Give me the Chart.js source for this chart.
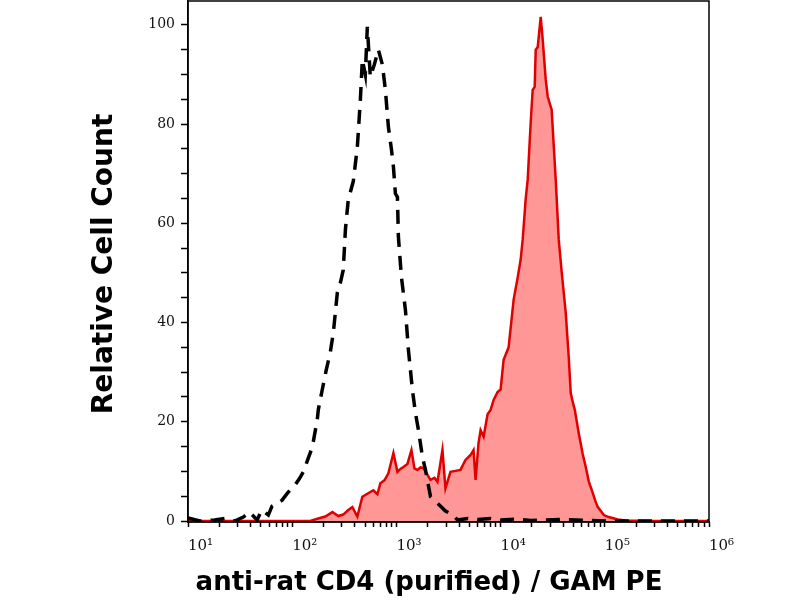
<!DOCTYPE html>
<html>
<head>
<meta charset="utf-8">
<script src="https://cdn.jsdelivr.net/npm/chart.js@4.4.1/dist/chart.umd.min.js"></script>
<style>
  html, body { margin: 0; padding: 0; background: #fff; }
  #wrap { width: 800px; height: 600px; position: relative; }
</style>
</head>
<body>
<div id="wrap"><canvas id="histChart"></canvas></div>
<script>
// stained sample (anti-rat CD4 / GAM PE), fluorescence channel values
const stainedX = [10, 39, 149, 178, 208, 243, 277, 309, 345, 378, 422, 471, 526, 601, 657, 702, 767, 838, 936,
    1023, 1092, 1167, 1276, 1394, 1490, 1592, 1702, 1818, 1987, 2124, 2319, 2478, 2767, 2957, 3303, 3690,
    4121, 4603, 5148, 5495, 5754, 6138, 6427, 6871, 7500, 8017, 8570, 9354, 10000, 10690, 11940, 13340,
    14560, 15560, 16290, 17380, 18200, 19410, 20320, 21240, 21730, 22700, 24270, 25360, 27100, 28330,
    30900, 33810, 36140, 38640, 42170, 45080, 47100, 49230, 51520, 56230, 61380, 65630, 70180, 76740,
    81880, 85700, 91620, 97800, 109200, 133300, 158500, 275000, 1000000];
const stainedY = [0, 0, 0, 0.5, 0.9, 1.8, 1.0, 1.3, 2.2, 2.8, 0.9, 4.9, 5.5, 6.2, 5.4, 7.6, 8.2, 9.6, 13.7,
    9.9, 10.5, 10.9, 11.5, 14.3, 10.6, 10.3, 10.8, 10.7, 9.3, 8.3, 8.7, 7.9, 14.3, 6.6, 9.9, 10.1,
    10.3, 12.3, 13.3, 14.3, 8.3, 15.7, 18.3, 17, 21.5, 22.4, 24.4, 26, 26.5, 32.5, 35, 44.6,
    49, 52.6, 56.7, 64.7, 68.8, 80, 86.9, 87.5, 95, 95.5, 101.6, 97, 89, 85.5,
    82.9, 68.8, 56.7, 50, 42, 33, 25.8, 24, 22.4, 17.7, 13.5, 10.9, 8, 5.6,
    3.8, 2.8, 2.0, 1.2, 0.8, 0.3, 0.1, 0, 0];

// isotype control (dashed)
const controlX = [10, 13, 18, 24, 28, 34, 39, 46, 51, 59, 64, 72, 80, 90, 98, 107, 117, 128, 139, 156, 174,
    178, 194, 212, 232, 248, 271, 290, 309, 324, 345, 386, 422, 451, 471, 503, 526, 562, 614, 671, 733,
    783, 838, 895, 936, 978, 1023, 1045, 1117, 1221, 1304, 1425, 1523, 1629, 1778, 1901, 2124, 2478,
    2957, 3532, 3864, 4822, 6012, 8017, 10000, 13930, 19410, 37760, 73280, 114300, 1000000];
const controlY = [0.6, 0, 0.2, 0.6, 0, 0.8, 1.8, 0.2, 2.2, 1.2, 3.0, 3.6, 4.2, 5.6, 6.5, 7.3, 8.5, 9.9, 12, 14.9, 20.4,
    22.4, 26.4, 30.4, 34, 37.9, 46, 48, 50.6, 58.7, 64.7, 68.5, 75.4, 84.9, 93, 90, 99.6, 89.5, 92, 95, 92,
    87, 79.4, 75, 71.4, 66, 65.3, 57.3, 49.2, 42.5, 34.5, 26.4, 21.8, 18.3, 12.9, 10.3, 4.9, 3.6,
    2.0, 1.2, 0.2, 0.5, 0.3, 0.5, 0.2, 0.4, 0.1, 0.3, 0.1, 0, 0];

const xDecades = [1, 2, 3, 4, 5, 6];
const yMajorTicks = [0, 20, 40, 60, 80, 100];
const yMinorStep = 5;

const xTitle = 'anti-rat CD4 (purified) / GAM PE';
const yTitle = 'Relative Cell Count';

const SUP = ['⁰', '¹', '²', '³', '⁴', '⁵', '⁶', '⁷', '⁸', '⁹'];

function toPoints(xs, ys) {
    return xs.map((x, i) => ({ x: x, y: ys[i] }));
}

// frame around the plot + axis titles
const framePlugin = {
    id: 'frameAndTitles',
    afterDraw(chart) {
        const { ctx, chartArea } = chart;
        ctx.save();
        ctx.strokeStyle = '#000';
        ctx.lineWidth = 1.5;
        ctx.strokeRect(chartArea.left, chartArea.top, chartArea.right - chartArea.left, chartArea.bottom - chartArea.top);

        ctx.fillStyle = '#000';
        ctx.font = 'bold 26px "DejaVu Sans"';
        ctx.textAlign = 'center';
        ctx.textBaseline = 'alphabetic';
        ctx.fillText(xTitle, 429, 590);

        ctx.translate(112, 264);
        ctx.rotate(-Math.PI / 2);
        ctx.font = 'bold 28px "DejaVu Sans"';
        ctx.fillText(yTitle, 0, 0);
        ctx.restore();
    }
};

const ctx = document.getElementById('histChart').getContext('2d');
const histChart = new Chart(ctx, {
    type: 'line',
    data: {
        datasets: [
            {
                label: 'control',
                data: toPoints(controlX, controlY),
                borderColor: '#000',
                borderWidth: 3.5,
                borderDash: [14, 9],
                pointRadius: 0,
                fill: false,
                tension: 0,
                order: 0
            },
            {
                label: 'stained',
                data: toPoints(stainedX, stainedY),
                borderColor: '#e00000',
                borderWidth: 2.5,
                backgroundColor: '#ff9797',
                pointRadius: 0,
                fill: 'origin',
                tension: 0,
                order: 1
            }
        ]
    },
    options: {
        responsive: true,
        maintainAspectRatio: false,
        animation: false,
        layout: { padding: { top: 1, right: 91, left: 0, bottom: 0 } },
        plugins: {
            legend: { display: false },
            tooltip: { enabled: false }
        },
        scales: {
            x: {
                type: 'logarithmic',
                min: 10,
                max: 1000000,
                afterBuildTicks: function(scale) {
                    const ticks = [];
                    xDecades.forEach(function(d) {
                        for (let k = 1; k <= 9; k++) {
                            const v = k * Math.pow(10, d);
                            if (v <= 1000000) ticks.push({ value: v });
                        }
                    });
                    scale.ticks = ticks;
                },
                afterFit: function(scale) {
                    scale.height = 78;
                    scale.paddingLeft = 0;
                    scale.paddingRight = 0;
                },
                grid: { drawOnChartArea: false, tickLength: 5, color: '#000', tickWidth: 1.5 },
                border: { color: '#000', width: 1.5 },
                ticks: {
                    autoSkip: false,
                    maxRotation: 0,
                    align: 'start',
                    padding: 10,
                    color: '#111',
                    font: { family: '"DejaVu Serif"', size: 15 },
                    callback: function(value) {
                        const p = Math.round(Math.log10(value));
                        if (Math.abs(Math.pow(10, p) - value) < 1e-6) {
                            return '10' + SUP[p];
                        }
                        return '';
                    }
                }
            },
            y: {
                type: 'linear',
                min: -0.2,
                max: 104.8,
                afterBuildTicks: function(scale) {
                    const ticks = [];
                    for (let v = 0; v <= yMajorTicks[yMajorTicks.length - 1]; v += yMinorStep) {
                        ticks.push({ value: v });
                    }
                    scale.ticks = ticks;
                },
                afterFit: function(scale) {
                    scale.width = 188;
                    scale.paddingTop = 0;
                    scale.paddingBottom = 0;
                },
                grid: { drawOnChartArea: false, tickLength: 7, color: '#000', tickWidth: 1.5 },
                border: { color: '#000', width: 1.5 },
                ticks: {
                    autoSkip: false,
                    padding: 6,
                    color: '#111',
                    font: { family: '"DejaVu Serif"', size: 14 },
                    callback: function(value) {
                        return yMajorTicks.indexOf(value) >= 0 ? String(value) : '';
                    }
                }
            }
        }
    },
    plugins: [framePlugin]
});
</script>
</body>
</html>
